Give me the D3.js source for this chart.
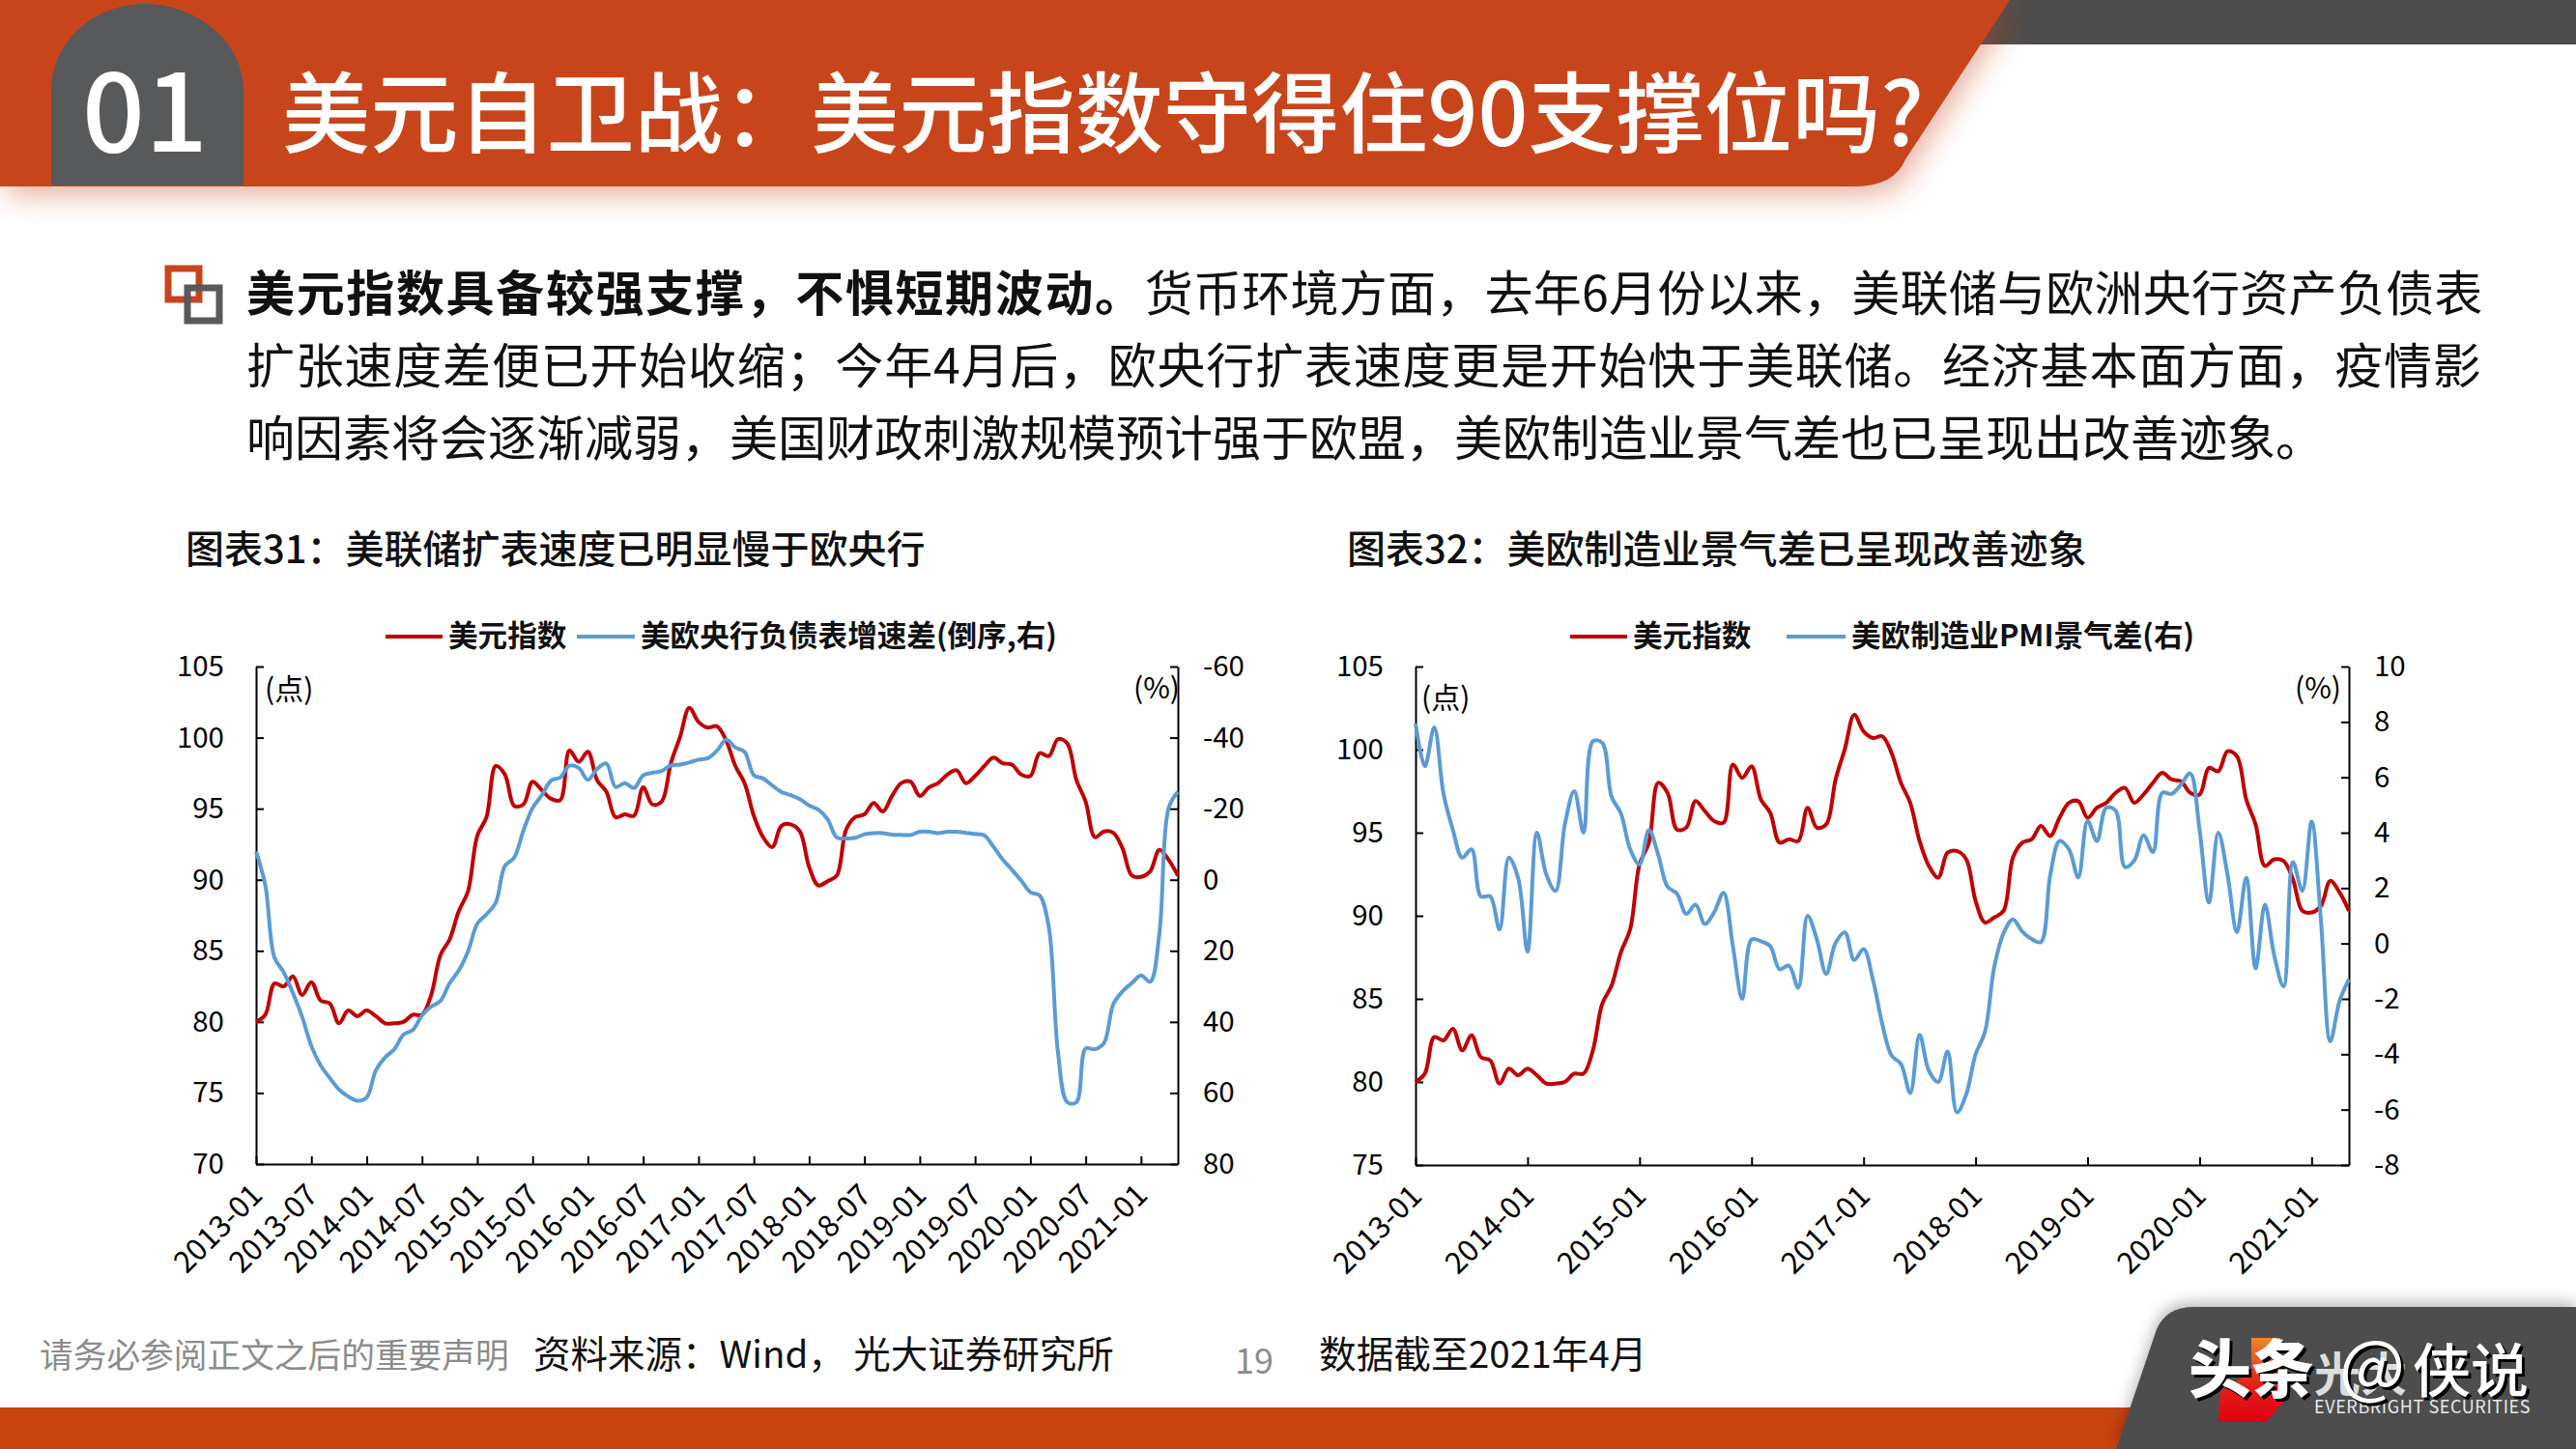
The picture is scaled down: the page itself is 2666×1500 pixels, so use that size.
<!DOCTYPE html>
<html>
<head>
<meta charset="utf-8">
<script src="https://cdn.jsdelivr.net/npm/d3@7"></script>
<style>
  html, body { margin: 0; padding: 0; background: #fff; }
  svg { display: block; }
  text { font-family: "Noto Sans CJK SC", "Noto Sans", sans-serif; }
</style>
</head>
<body>
<svg id="slide" width="2666" height="1500"></svg>
<script>
// monthly readings 2013-01 .. 2021-04, the last point sits at the end of April
const months = d3.timeMonth.range(new Date(2013, 0, 1), new Date(2021, 5, 1)).map(d3.timeFormat("%Y-%m"));

const dollarIndex = [
  80, 80.5, 82.7, 82.5, 83.2, 81.9, 82.8, 81.5, 81.3, 79.9, 80.8, 80.4,
  80.8, 80.4, 79.9, 79.9, 80, 80.5, 80.5, 81.9, 84.7, 85.8, 87.8, 89.2,
  93.1, 94.4, 98, 97.4, 95.2, 95.3, 96.9, 96.3, 95.7, 95.6, 99.1, 98.3,
  99, 97, 96.2, 94.4, 94.6, 94.5, 96.5, 95.3, 95.5, 98.2, 100.05, 102.1,
  101.1, 100.7, 100.8, 99.8, 98, 96.8, 94.5, 93, 92.3, 93.8, 93.9, 93.4,
  90.9, 89.6, 89.9, 90.3, 93.5, 94.4, 94.6, 95.4, 94.8, 95.9, 96.8, 96.9,
  95.9, 96.5, 96.8, 97.4, 97.7, 96.8, 97.3, 98, 98.6, 98.2, 98.1, 97.4,
  97.3, 98.9, 98.7, 99.9, 99.6, 97, 95.5, 93, 93.4, 93.3, 92.2, 90.3,
  90.2, 90.6, 92.1, 91.4, 90.3
];

const balanceSheetGap = [
  -8, 1.5, 21.9, 26, 31.9, 38.6, 46.8, 52.2, 55.8, 59, 61, 62.2,
  61.3, 53.6, 50, 47.7, 43.6, 42.3, 38.2, 35.7, 34.1, 29.1, 25.5, 20.1,
  12.4, 9.7, 6.5, -3.9, -6.2, -13.8, -20.2, -23.8, -27.9, -28.8, -32.1, -31.5,
  -28.1, -31.2, -32.7, -26.1, -27.2, -25.8, -29.4, -30.1, -30.6, -32.2, -32.4, -33,
  -33.8, -34.2, -36.3, -39.4, -37.2, -36, -29.4, -28.5, -26.5, -24.7, -23.8, -22.7,
  -20.9, -19.7, -17, -11.9, -11.6, -11.8, -12.8, -13.1, -13.1, -12.7, -12.6, -12.6,
  -13.5, -13.5, -13.1, -13.5, -13.5, -13.2, -12.9, -12.5, -9.3, -5.7, -2.8, 0.2,
  3.5, 4.4, 13.3, 48.6, 62.6, 62.6, 47.5, 47.7, 45.9, 35, 31.4, 29.1,
  26.9, 28.7, 15.1, -20.2, -24.7
];

const pmiGap = [
  7.95, 6.4, 7.8, 5.4, 4.1, 3.1, 3.4, 1.7, 1.7, 0.5, 3.1, 2.35,
  -0.3, 4, 2.5, 1.9, 4.3, 5.5, 4, 7.3, 7.25, 5.3, 4.7, 3.4,
  2.85, 4.1, 3.2, 2.05, 1.8, 1.07, 1.4, 0.7, 1.13, 1.83, -0.1, -2,
  0.14, 0.08, -0.1, -0.93, -0.8, -1.6, 1, 0.14, -1.1, 0.02, 0.4, -0.6,
  -0.2, -1.3, -2.9, -4.05, -4.35, -5.4, -3.3, -4.6, -5, -3.9, -6.1, -5.45,
  -4, -3.2, -0.85, 0.37, 0.87, 0.43, 0.16, 0.05, 2.47, 3.7, 3.4, 2.39,
  4.43, 3.7, 4.9, 4.8, 2.76, 3, 3.9, 3.3, 5.44, 5.4, 5.73, 6.14,
  4.1, 1.48, 4, 2.47, 0.4, 2.38, -0.9, 1.4, -0.44, -1.55, 2.94, 1.9,
  4.4, 0.84, -3.53, -2.07, -1.3
];

const halfYearTicks = ["2013-01","2013-07","2014-01","2014-07","2015-01","2015-07","2016-01","2016-07",
  "2017-01","2017-07","2018-01","2018-07","2019-01","2019-07","2020-01","2020-07","2021-01"];
const yearTicks = ["2013-01","2014-01","2015-01","2016-01","2017-01","2018-01","2019-01","2020-01","2021-01"];

const leftTicks31 = [70, 75, 80, 85, 90, 95, 100, 105];
const rightTicks31 = [-60, -40, -20, 0, 20, 40, 60, 80];
const leftTicks32 = [75, 80, 85, 90, 95, 100, 105];
const rightTicks32 = [-8, -6, -4, -2, 0, 2, 4, 6, 8, 10];

const paragraphLines = [
  [["美元指数具备较强支撑，不惧短期波动。", 700], ["货币环境方面，去年6月份以来，美联储与欧洲央行资产负债表", 400]],
  [["扩张速度差便已开始收缩；今年4月后，欧央行扩表速度更是开始快于美联储。经济基本面方面，疫情影", 400]],
  [["响因素将会逐渐减弱，美国财政刺激规模预计强于欧盟，美欧制造业景气差也已呈现出改善迹象。", 400]]
];
// the slide justifies its text, so each run has its own spacing
const paragraphSpacing = [[1.65, 0.25], [0.78], [0]];

const RED = "#c00000";
const BLUE = "#5b9bd5";
const ORANGE = "#c8441f";
const GREY = "#4d4d4d";

const svg = d3.select("#slide");
const defs = svg.append("defs");

const headerShadow = defs.append("filter").attr("id", "headerShadow")
  .attr("x", "-5%").attr("y", "-10%").attr("width", "110%").attr("height", "140%");
headerShadow.append("feDropShadow").attr("dx", 6).attr("dy", 10).attr("stdDeviation", 14)
  .attr("flood-color", "#c8441f").attr("flood-opacity", 0.4);

const footerShadow = defs.append("filter").attr("id", "footerShadow")
  .attr("x", "-10%").attr("y", "-20%").attr("width", "120%").attr("height", "130%");
footerShadow.append("feDropShadow").attr("dx", 0).attr("dy", -4).attr("stdDeviation", 8)
  .attr("flood-color", "#000").attr("flood-opacity", 0.3);

const logoFill = defs.append("linearGradient").attr("id", "logoFill")
  .attr("x1", 0).attr("y1", 0).attr("x2", 0).attr("y2", 1);
logoFill.append("stop").attr("offset", "0%").attr("stop-color", "#f0862a");
logoFill.append("stop").attr("offset", "55%").attr("stop-color", "#e2231a");
logoFill.append("stop").attr("offset", "100%").attr("stop-color", "#e00012");

// ---- header
svg.append("rect").attr("x", 2040).attr("y", 0).attr("width", 626).attr("height", 46).attr("fill", GREY);
svg.append("path").attr("fill", ORANGE).attr("filter", "url(#headerShadow)")
  .attr("d", "M0,0 H2080 L1972,165 Q1960,193 1920,193 H0 Z");
svg.append("path").attr("fill", "#58595b")
  .attr("d", "M53,192 V95 C53,40 100,4 150,4 C200,4 252,40 252,95 V192 Z");
svg.append("text").attr("x", 150).attr("y", 157).attr("text-anchor", "middle")
  .attr("font-size", 114).attr("font-weight", 500).attr("fill", "#fff").text("01");
svg.append("text").attr("x", 292).attr("y", 151)
  .attr("font-size", 91.2).attr("font-weight", 500).attr("fill", "#fff").text("美元自卫战：美元指数守得住90支撑位吗?");

// ---- bullet
svg.append("rect").attr("x", 174).attr("y", 278).attr("width", 32).attr("height", 32)
  .attr("fill", "none").attr("stroke", ORANGE).attr("stroke-width", 7);
svg.append("rect").attr("x", 194).attr("y", 298).attr("width", 33).attr("height", 34)
  .attr("fill", "none").attr("stroke", "#595959").attr("stroke-width", 7);

// ---- paragraph
paragraphLines.forEach((runs, i) => {
  const line = svg.append("text").attr("x", 255).attr("y", 322 + i * 75)
    .attr("font-size", 50).attr("fill", "#111");
  runs.forEach(([t, w], j) => line.append("tspan").attr("font-weight", w)
    .attr("letter-spacing", paragraphSpacing[i][j]).text(t));
});

// ---- charts
function drawChart(cfg) {
  const { left, right, top, bottom } = cfg;
  const x = d3.scalePoint().domain(months).range([left, right]);
  const yLeft = d3.scaleLinear().domain(d3.extent(cfg.leftTicks)).range([bottom, top]);
  const yRight = d3.scaleLinear().domain(cfg.rightDomain).range([bottom, top]);

  const g = svg.append("g");

  g.append("text").attr("x", cfg.titleX).attr("y", 583)
    .attr("font-size", 40).attr("font-weight", 500).attr("fill", "#111").text(cfg.title);

  const styleAxis = (a) => {
    a.selectAll("path, line").attr("stroke", "#000").attr("stroke-width", 2);
    a.selectAll("text").attr("fill", "#000").attr("font-size", 29.5)
      .attr("font-family", '"Noto Sans CJK SC", sans-serif');
  };

  g.append("g").attr("transform", `translate(${left},0)`)
    .call(d3.axisLeft(yLeft).tickValues(cfg.leftTicks).tickSizeInner(-8).tickSizeOuter(0).tickPadding(33))
    .call(styleAxis);

  // plain hyphen on the negative labels, as in the source
  g.append("g").attr("transform", `translate(${right},0)`)
    .call(d3.axisRight(yRight).tickValues(cfg.rightTicks).tickFormat((d) => String(d))
      .tickSizeInner(-8).tickSizeOuter(0).tickPadding(26))
    .call(styleAxis);

  g.append("g").attr("transform", `translate(0,${bottom})`)
    .call(d3.axisBottom(x).tickValues(cfg.xTicks).tickSizeInner(-8).tickSizeOuter(0))
    .call(styleAxis)
    .call((a) => a.selectAll("text")
      .attr("font-size", 31)
      .attr("text-anchor", "end")
      .attr("dy", 0)
      .attr("y", 0)
      .attr("x", 0)
      .attr("transform", "translate(8,34) rotate(-45)"));

  const line = (values, y) => d3.line()
    .x((d, i) => x(months[i]))
    .y((d) => y(d))
    .curve(d3.curveCatmullRom)(values);

  g.append("path").attr("d", line(dollarIndex, yLeft))
    .attr("fill", "none").attr("stroke", RED).attr("stroke-width", 4);
  g.append("path").attr("d", line(cfg.rightSeries, yRight))
    .attr("fill", "none").attr("stroke", BLUE).attr("stroke-width", 4);

  // legend
  cfg.legend.forEach((d) => {
    g.append("line").attr("x1", d.x1).attr("x2", d.x2).attr("y1", 659).attr("y2", 659)
      .attr("stroke", d.color).attr("stroke-width", 4);
    g.append("text").attr("x", d.x2 + 6).attr("y", 669)
      .attr("font-size", 30.6).attr("font-weight", 700).attr("fill", "#111").text(d.label);
  });

  // unit marks
  g.append("text").attr("x", cfg.unitLeftX).attr("y", cfg.unitLeftY)
    .attr("font-size", 30).attr("fill", "#000").text("(点)");
  g.append("text").attr("x", cfg.unitRightX).attr("y", 723).attr("text-anchor", "end")
    .attr("font-size", 30).attr("fill", "#000").text("(%)");
}

drawChart({
  left: 265, right: 1219, top: 690, bottom: 1205,
  title: "图表31：美联储扩表速度已明显慢于欧央行", titleX: 192,
  leftTicks: leftTicks31, rightTicks: rightTicks31, rightDomain: [80, -60],
  rightSeries: balanceSheetGap, xTicks: halfYearTicks,
  legend: [
    { x1: 399, x2: 458, color: RED, label: "美元指数" },
    { x1: 597, x2: 657, color: BLUE, label: "美欧央行负债表增速差(倒序,右)" }
  ],
  unitLeftX: 274, unitLeftY: 724, unitRightX: 1221
});

drawChart({
  left: 1465, right: 2431, top: 690, bottom: 1206,
  title: "图表32：美欧制造业景气差已呈现改善迹象", titleX: 1394,
  leftTicks: leftTicks32, rightTicks: rightTicks32, rightDomain: [-8, 10],
  rightSeries: pmiGap, xTicks: yearTicks,
  legend: [
    { x1: 1625, x2: 1684, color: RED, label: "美元指数" },
    { x1: 1849, x2: 1910, color: BLUE, label: "美欧制造业PMI景气差(右)" }
  ],
  unitLeftX: 1471, unitLeftY: 733, unitRightX: 2423
});

// ---- footer
svg.append("text").attr("x", 41).attr("y", 1416).attr("font-size", 34.7).attr("fill", "#8c8c8c")
  .text("请务必参阅正文之后的重要声明");
svg.append("text").attr("x", 552).attr("y", 1416).attr("font-size", 38.5).attr("fill", "#111")
  .text("资料来源：Wind， 光大证券研究所");
svg.append("text").attr("x", 1278).attr("y", 1422).attr("font-size", 36).attr("fill", "#8c8c8c").text("19");
svg.append("text").attr("x", 1365).attr("y", 1416).attr("font-size", 38.7).attr("fill", "#111")
  .text("数据截至2021年4月");

svg.append("rect").attr("x", 0).attr("y", 1457).attr("width", 2300).attr("height", 43).attr("fill", "#c9430f");
svg.append("path").attr("fill", GREY).attr("filter", "url(#footerShadow)")
  .attr("d", "M2190,1500 L2232,1376 Q2242,1353 2270,1353 H2666 V1500 Z");

// logo and watermark on top of the dark corner
svg.append("path").attr("fill", "url(#logoFill)")
  .attr("d", "M2330,1385 H2360 V1440 L2363,1452 L2345,1472 H2296 L2298,1440 L2330,1420 Z");
svg.append("text").attr("x", 2395).attr("y", 1463).attr("font-size", 18).attr("fill", "#e8e8e8")
  .attr("letter-spacing", 0.6).text("EVERBRIGHT SECURITIES");
svg.append("text").attr("x", 2395).attr("y", 1440).attr("font-size", 48).attr("font-weight", 700).attr("fill", "#ddd").text("光大");

[["#000", 3, 3], ["#fff", 0, 0]].forEach(([c, dx, dy]) => {
  svg.append("text").attr("x", 2265 + dx).attr("y", 1441 + dy).attr("font-size", 65).attr("font-weight", 900)
    .attr("fill", c).text("头条");
  svg.append("text").attr("x", 2421 + dx).attr("y", 1440 + dy).attr("font-size", 72)
    .attr("fill", c).text("@");
  svg.append("text").attr("x", 2497 + dx).attr("y", 1441 + dy).attr("font-size", 60).attr("font-weight", 500)
    .attr("fill", c).text("侠说");
});
</script>
</body>
</html>
